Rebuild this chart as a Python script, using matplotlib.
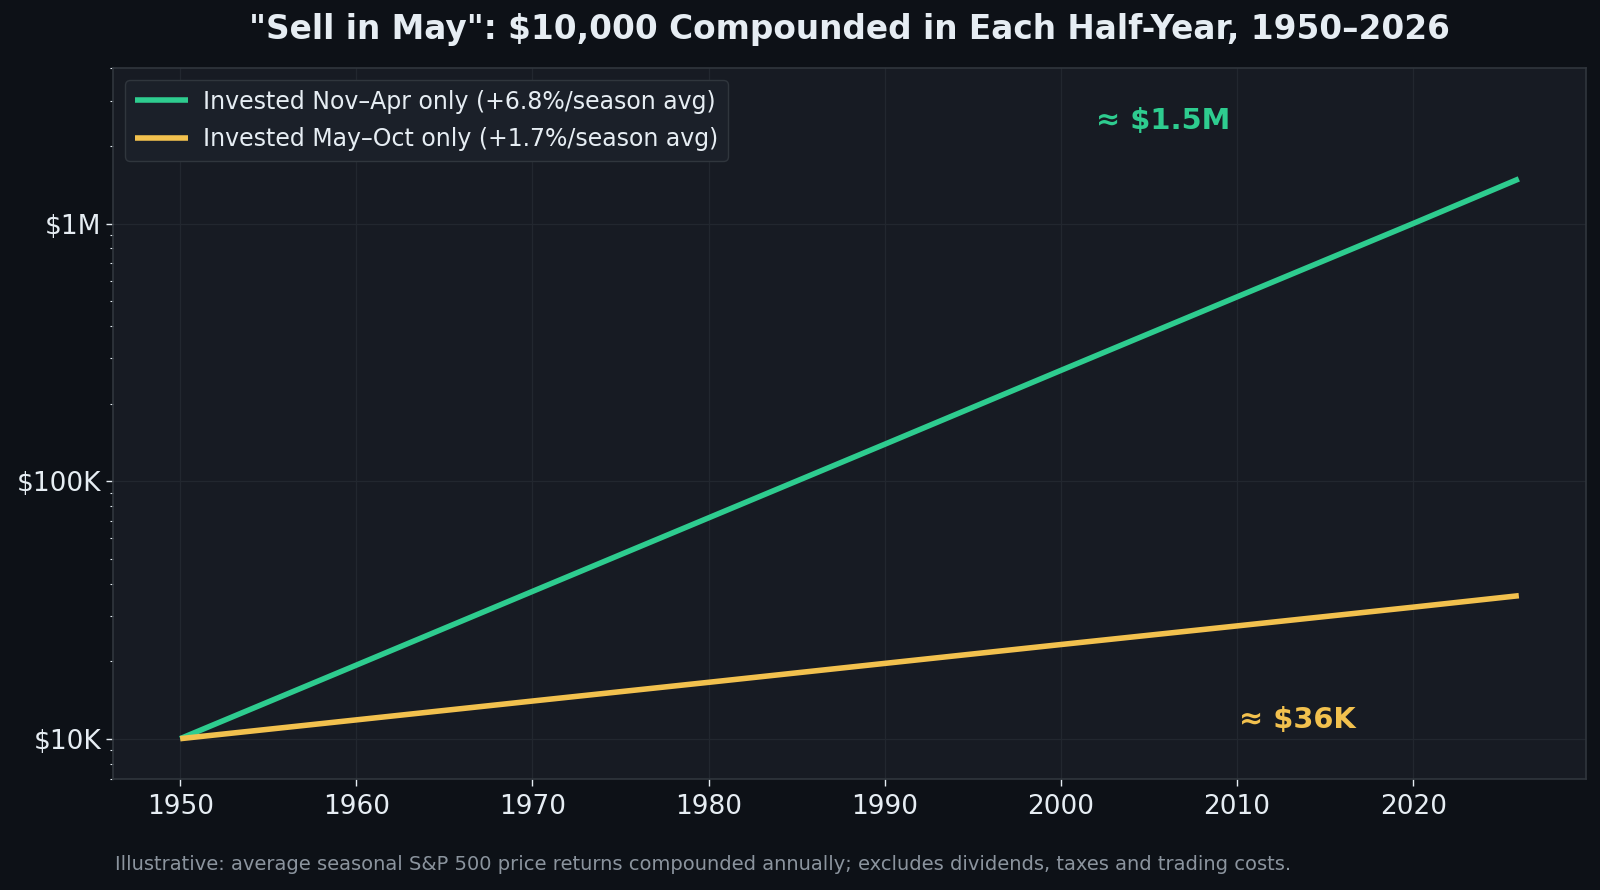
import matplotlib
matplotlib.use("Agg")
import matplotlib.pyplot as plt
from matplotlib.ticker import FixedLocator, FuncFormatter, LogLocator, NullFormatter

# Data (value of $10,000 at each year)
years = [1950, 1960, 1970, 1980, 1990, 2000, 2010, 2020, 2026]
nov_apr = [10000, 19300, 37300, 72000, 139000, 269000, 519000, 1000000, 1490000]
may_oct = [10000, 11830, 14000, 16550, 19600, 23200, 27400, 32400, 35900]
labels = ["Invested Nov\u2013Apr only (+6.8%/season avg)",
          "Invested May\u2013Oct only (+1.7%/season avg)"]
end_labels = ["\u2248 $1.5M", "\u2248 $36K"]
ytick_vals = [1e4, 1e5, 1e6]
ytick_labels = ["$10K", "$100K", "$1M"]

FIG_BG = "#0d1117"
AX_BG = "#171b23"
GREEN = "#2ecc8f"
YELLOW = "#f2c14e"
TEXT = "#e6edf3"
SPINE = "#30363d"
GRID = "#22272f"
MUTED = "#8b949e"

plt.rcParams['font.family'] = ['DejaVu Sans']

fig = plt.figure(figsize=(16, 8.9), dpi=100, facecolor=FIG_BG)
ax = fig.add_axes([0.0708, 0.1252, 0.9203, 0.7979])
ax.set_facecolor(AX_BG)

ax.plot(years, nov_apr, color=GREEN, lw=4, label=labels[0], solid_capstyle='butt')
ax.plot(years, may_oct, color=YELLOW, lw=4, label=labels[1], solid_capstyle='butt')

ax.set_yscale('log')
ax.set_ylim(7000, 4e6)
ax.margins(x=0.05)

ax.yaxis.set_major_locator(FixedLocator(ytick_vals))
ax.yaxis.set_major_formatter(FuncFormatter(lambda v, p: ytick_labels[ytick_vals.index(v)] if v in ytick_vals else ""))
ax.yaxis.set_minor_locator(LogLocator(base=10, subs=range(2, 10)))
ax.yaxis.set_minor_formatter(NullFormatter())
ax.set_xticks([1950, 1960, 1970, 1980, 1990, 2000, 2010, 2020])

ax.tick_params(axis='both', which='major', colors=TEXT, labelsize=19, length=5, width=1)
ax.tick_params(axis='both', which='minor', colors=TEXT, length=2.5, width=0.8)
ax.tick_params(axis='x', pad=6)

for s in ax.spines.values():
    s.set_color(SPINE)
    s.set_linewidth(1.2)

ax.grid(True, which='major', color=GRID, lw=0.9)
ax.set_axisbelow(True)

leg = ax.legend(loc='upper left', fontsize=17.0, frameon=True, facecolor="#1b2029",
                edgecolor=SPINE, labelcolor=TEXT, handlelength=2.25, handletextpad=0.65,
                framealpha=1, labelspacing=0.58)
leg.get_frame().set_linewidth(1.0)

ax.text(years[-1] - 20.2, nov_apr[-1] * 1.68, end_labels[0], color=GREEN, fontsize=20.8,
        fontweight='bold', ha='center', va='center')
ax.text(years[-1] - 12.6, may_oct[-1] / 3.05, end_labels[1], color=YELLOW, fontsize=20.8,
        fontweight='bold', ha='center', va='center')

ax.set_title('"Sell in May": $10,000 Compounded in Each Half-Year, 1950\u20132026',
             color=TEXT, fontsize=23.6, fontweight='bold', pad=21)
fig.text(0.072, 0.029, "Illustrative: average seasonal S&P 500 price returns compounded annually; "
         "excludes dividends, taxes and trading costs.",
         ha='left', va='center', color=MUTED, fontsize=14)

fig.savefig("out.png", dpi=100, facecolor=FIG_BG)
